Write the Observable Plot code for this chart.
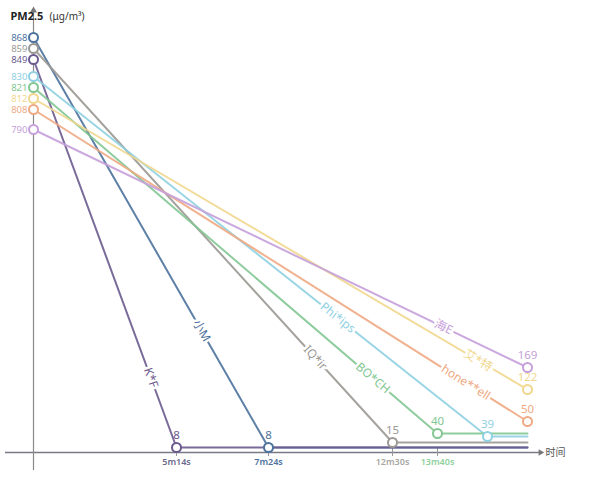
<!DOCTYPE html>
<html><head><meta charset="utf-8">
<script src="https://cdn.jsdelivr.net/npm/d3@7"></script>
<script src="https://cdn.jsdelivr.net/npm/@observablehq/plot@0.6"></script>
<style>body{margin:0;background:#fff;overflow:hidden}</style>
</head><body><div id="chart"></div>
<script>
// ---- data ----
const brands      = ["小M", "IQ*ir", "K*F", "Phi*ips", "BO*CH", "艾*特", "hone**ell", "海E"];
const startValues = [868, 859, 849, 830, 821, 812, 808, 790];   // PM2.5 at start (µg/m³)
const endValues   = [8, 15, 8, 39, 40, 122, 50, 169];            // PM2.5 at end
const endTimes    = [444, 750, 314, 960, 820, 1200, 1200, 1200]; // seconds
const colors      = ["#4d729c", "#9b9894", "#6c5a8e", "#8fd0e2", "#82c792", "#f1d78e", "#eea983", "#c5a0da"];
const labelAt     = [0.715, 0.785, 0.82, 0.67, 0.84, 0.9, 0.875, 0.83];
const tickTimes   = [314, 444, 750, 820];
const tickLabels  = ["5m14s", "7m24s", "12m30s", "13m40s"];
const tickColors  = ["#6c6a8e", "#4d729c", "#a8a6a4", "#8fd09c"];
const testEnd = 1200;

// ---- scales (the original axis is drawn not-to-scale, so piecewise) ----
const xScale = {type: "linear", domain: [0, 314, 444, 750, 820, 960, 1200], range: [33, 176, 268, 392, 437, 487, 527]};
const yScale = {type: "linear",
  domain: [0, 8, 15, 39, 40, 50, 122, 169, 790, 808, 812, 821, 830, 849, 859, 868],
  range:  [452, 447, 442, 436, 433, 421, 389, 367, 129, 109, 98, 87, 76, 59, 48, 37]};

const series = brands.map((b, i) => ({brand: b, start: startValues[i], end: endValues[i], t: endTimes[i], color: colors[i], f: labelAt[i]}));
const rows = [];
for (const s of series) {
  rows.push({brand: s.brand, t: 0, v: s.start, color: s.color});
  rows.push({brand: s.brand, t: s.t, v: s.end, color: s.color});
  if (s.t < testEnd) rows.push({brand: s.brand, t: testEnd, v: s.end, color: s.color});
}
const sx = Plot.scale({x: xScale}), sy = Plot.scale({y: yScale});
const labels = series.map(s => {
  const x0 = sx.apply(0), y0 = sy.apply(s.start), x1 = sx.apply(s.t), y1 = sy.apply(s.end);
  const px = x0 + s.f * (x1 - x0), py = y0 + s.f * (y1 - y0);
  return {brand: s.brand, color: s.color, t: sx.invert(px), v: sy.invert(py), angle: Math.atan2(y1 - y0, x1 - x0) * 180 / Math.PI};
});
const ticks = tickTimes.map((t, i) => ({t, label: tickLabels[i], color: tickColors[i]}));

const chart = Plot.plot({
  width: 600, height: 487,
  marginLeft: 5, marginRight: 60, marginTop: 10, marginBottom: 17,
  x: {...xScale, axis: null},
  y: {...yScale, axis: null},
  style: {fontFamily: "'Noto Sans', 'Noto Sans CJK SC', sans-serif", background: "#fff"},
  marks: [
    Plot.ruleY([0], {stroke: "#7a7a86", strokeWidth: 1.6}),
    Plot.ruleX([0], {stroke: "#8a8a8a", strokeWidth: 1.2}),
    Plot.dot([0], {x: 0, frameAnchor: "top", symbol: "triangle", r: 2.6, fill: "#777"}),
    Plot.dot([0], {y: 0, frameAnchor: "right", symbol: "triangle", rotate: 90, r: 2.4, fill: "#777"}),
    Plot.ruleX(ticks, {x: "t", y1: 0, y2: 0, insetTop: -4, insetBottom: -4, stroke: "#999"}),
    Plot.line(rows, {x: "t", y: "v", z: "brand", stroke: "color", strokeWidth: 2, strokeOpacity: 0.9}),
    Plot.text(labels, {x: "t", y: "v", text: "brand", rotate: "angle", fill: "color", fontSize: 12,
      stroke: "white", strokeWidth: 5, paintOrder: "stroke"}),
    Plot.dot(series, {x: 0, y: "start", r: 4.5, fill: "white", stroke: "color", strokeWidth: 2}),
    Plot.dot(series, {x: "t", y: "end", r: 4.5, fill: "white", stroke: "color", strokeWidth: 2}),
    Plot.text(series, {x: 0, y: "start", text: d => String(d.start), dx: -6, textAnchor: "end", fill: "color", fontSize: 9.5, letterSpacing: -0.3}),
    Plot.text(series, {x: "t", y: "end", text: d => String(d.end), dy: -12, fill: "color", fontSize: 11.5}),
    Plot.text(ticks, {x: "t", y: 0, text: "label", dy: 10, fill: "color", fontSize: 9, fontWeight: 600}),
    Plot.text(["PM2.5"], {frameAnchor: "top-left", dx: 5, dy: 2, fontSize: 11, fontWeight: 700, fill: "#222", textAnchor: "start", lineAnchor: "top", letterSpacing: -0.5}),
    Plot.text(["(μg/m³)"], {frameAnchor: "top-left", dx: 44, dy: 2, fontSize: 10, fill: "#333", textAnchor: "start", lineAnchor: "top"}),
    Plot.text(["时间"], {y: 0, frameAnchor: "right", dx: 5, textAnchor: "start", fontSize: 10, fill: "#555", text: d => d})
  ]
});
document.getElementById("chart").append(chart);
</script>
</body></html>
